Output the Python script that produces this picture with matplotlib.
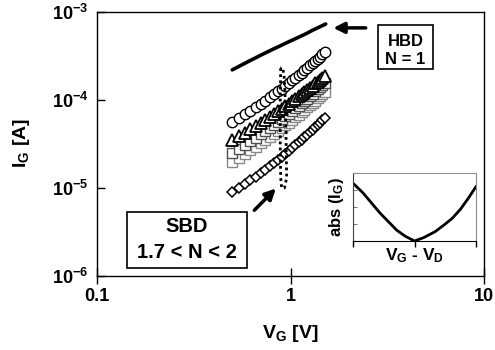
import matplotlib
matplotlib.use('Agg')
import matplotlib.pyplot as plt
from matplotlib.patches import Rectangle
from matplotlib.ticker import NullLocator

plt.rcParams['font.family'] = ['Liberation Sans', 'DejaVu Sans']
plt.rcParams['font.weight'] = 'bold'
plt.rcParams['mathtext.default'] = 'regular'

# gate voltage sweep [V]
vg = [0.50, 0.54, 0.58, 0.62, 0.66, 0.70, 0.74, 0.78, 0.82, 0.86, 0.90, 0.94, 0.98,
      1.02, 1.06, 1.10, 1.14, 1.18, 1.22, 1.26, 1.30, 1.34, 1.38, 1.42, 1.46, 1.50]

# SBD gate currents [A]
ig_circle = [5.62e-5, 6.22e-5, 6.86e-5, 7.54e-5, 8.28e-5, 9.03e-5, 9.84e-5, 1.07e-4, 1.16e-4,
             1.25e-4, 1.35e-4, 1.45e-4, 1.56e-4, 1.68e-4, 1.79e-4, 1.92e-4, 2.05e-4, 2.18e-4,
             2.32e-4, 2.47e-4, 2.62e-4, 2.78e-4, 2.95e-4, 3.11e-4, 3.29e-4, 3.47e-4]
ig_triangle = [3.51e-5, 3.86e-5, 4.23e-5, 4.63e-5, 5.06e-5, 5.48e-5, 5.94e-5, 6.43e-5, 6.93e-5,
               7.42e-5, 7.97e-5, 8.51e-5, 9.11e-5, 9.75e-5, 1.03e-4, 1.10e-4, 1.17e-4, 1.24e-4,
               1.31e-4, 1.38e-4, 1.46e-4, 1.54e-4, 1.62e-4, 1.70e-4, 1.79e-4, 1.87e-4]
ig_grey = [2.53e-5, 2.80e-5, 3.09e-5, 3.39e-5, 3.73e-5, 4.06e-5, 4.43e-5, 4.82e-5, 5.22e-5,
           5.63e-5, 6.08e-5, 6.53e-5, 7.02e-5, 7.56e-5, 8.06e-5, 8.64e-5, 9.23e-5, 9.81e-5,
           1.04e-4, 1.11e-4, 1.18e-4, 1.25e-4, 1.33e-4, 1.40e-4, 1.48e-4, 1.56e-4]
ig_square = [2.00e-5, 2.21e-5, 2.44e-5, 2.68e-5, 2.94e-5, 3.21e-5, 3.49e-5, 3.80e-5, 4.12e-5,
             4.44e-5, 4.79e-5, 5.15e-5, 5.54e-5, 5.96e-5, 6.35e-5, 6.82e-5, 7.28e-5, 7.74e-5,
             8.24e-5, 8.77e-5, 9.30e-5, 9.87e-5, 1.05e-4, 1.10e-4, 1.17e-4, 1.23e-4]
ig_diamond = [9.0e-6, 1.00e-5, 1.11e-5, 1.22e-5, 1.35e-5, 1.48e-5, 1.62e-5, 1.77e-5, 1.93e-5,
              2.09e-5, 2.26e-5, 2.44e-5, 2.64e-5, 2.85e-5, 3.05e-5, 3.29e-5, 3.53e-5, 3.77e-5,
              4.03e-5, 4.31e-5, 4.59e-5, 4.89e-5, 5.21e-5, 5.52e-5, 5.86e-5, 6.21e-5]

# HBD curve
hbd_v = [0.50, 0.60, 0.70, 0.80, 0.90, 1.00, 1.10, 1.20, 1.30, 1.40, 1.52]
hbd_i = [2.2e-4, 2.71e-4, 3.22e-4, 3.72e-4, 4.2e-4, 4.69e-4, 5.16e-4, 5.65e-4, 6.2e-4, 6.7e-4, 7.3e-4]

# dotted loop
loop_v = [0.89, 0.885, 0.885, 0.89, 0.90, 0.93, 0.955, 0.95, 0.94, 0.925, 0.905, 0.89]
loop_i = [2.3e-4, 1.0e-4, 3.0e-5, 1.3e-5, 1.0e-5, 1.0e-5, 1.3e-5, 3.0e-5, 1.0e-4, 2.0e-4, 2.35e-4, 2.3e-4]

# inset: abs(IG) vs VG - VD
inset_x = [-1, -0.84, -0.7, -0.56, -0.42, -0.29, -0.15, 0, 0.15, 0.34, 0.5, 0.61, 0.75, 0.876, 1.0]
inset_y = [0.85, 0.71, 0.56, 0.41, 0.28, 0.16, 0.07, 0, 0.05, 0.14, 0.25, 0.33, 0.47, 0.63, 0.80]

W, H = 495, 350


def fx(x):
    return x / W


def fy(y):
    return 1 - y / H


fig = plt.figure(figsize=(4.95, 3.5), dpi=100)
ax = fig.add_axes([fx(97), fy(276), 387 / W, 264 / H])
ax.set_xscale('log')
ax.set_yscale('log')

ax.plot(hbd_v, hbd_i, color='black', lw=2.6, solid_capstyle='round')

mk = dict(ls='none', markerfacecolor='white')
ax.plot(vg, ig_diamond, marker='D', ms=5.5, markeredgecolor='black', markeredgewidth=1.1, **mk)
ax.plot(vg, ig_square, marker='s', ms=7, markeredgecolor='#888888', markeredgewidth=1.0, **mk)
ax.plot(vg, ig_grey, marker='s', ms=7, markeredgecolor='#505050', markeredgewidth=1.0, **mk)
ax.plot(vg, ig_triangle, marker='^', ms=8, markeredgecolor='black', markeredgewidth=1.3, **mk)
ax.plot(vg, ig_circle, marker='o', ms=7.5, markeredgecolor='black', markeredgewidth=1.0, **mk)

ax.plot(loop_v, loop_i, color='black', ls=(0, (1, 1.2)), lw=2)

ax.set_xlim(0.1, 10)
ax.set_ylim(1e-6, 1e-3)
ax.set_xticks([0.1, 1, 10])
ax.set_xticklabels(['0.1', '1', '10'])
ax.set_yticks([1e-6, 1e-5, 1e-4, 1e-3])
ax.set_yticklabels(['$10^{-6}$', '$10^{-5}$', '$10^{-4}$', '$10^{-3}$'])
ax.xaxis.set_minor_locator(NullLocator())
ax.yaxis.set_minor_locator(NullLocator())
ax.tick_params(axis='x', direction='inout', length=11, width=1, labelsize=13, pad=3)
ax.tick_params(axis='y', direction='in', length=6, width=1, labelsize=13, pad=6)
for s in ax.spines.values():
    s.set_linewidth(1)

fig.text(fx(22), fy(143), 'I$_G$ [A]', rotation=90, ha='center', va='center', fontsize=14)
fig.text(fx(290), fy(333), 'V$_G$ [V]', ha='center', va='center', fontsize=14)

# arrows
ax.annotate('', xy=(1.61, 6.6e-4), xytext=(2.53, 6.6e-4),
            arrowprops=dict(arrowstyle='-|>', lw=2.5, color='black', mutation_scale=16))
ax.annotate('', xy=(0.86, 1.04e-5), xytext=(0.635, 5.3e-6),
            arrowprops=dict(arrowstyle='-|>', lw=2.5, color='black', mutation_scale=16))

# label boxes
fig.patches.append(Rectangle((fx(378), fy(69)), 55 / W, 44 / H, transform=fig.transFigure,
                             fill=False, edgecolor='black', lw=1.2))
fig.text(fx(405.5), fy(41), 'HBD', ha='center', va='center', fontsize=12)
fig.text(fx(405.5), fy(60), 'N = 1', ha='center', va='center', fontsize=12)

fig.patches.append(Rectangle((fx(127), fy(268)), 120 / W, 56 / H, transform=fig.transFigure,
                             facecolor='white', edgecolor='black', lw=1.2, zorder=5))
fig.text(fx(187), fy(227), 'SBD', ha='center', va='center', fontsize=14.5, zorder=6)
fig.text(fx(187), fy(253), '1.7 < N < 2', ha='center', va='center', fontsize=14.5, zorder=6)

# inset
ins = fig.add_axes([fx(353), fy(241), 123 / W, 68 / H])
ins.plot(inset_x, inset_y, color='black', lw=2)
ins.set_xlim(-1, 1)
ins.set_ylim(0, 1)
ins.set_xticks([-1, 0, 1])
ins.set_yticks([0, 0.25, 0.5, 0.75, 1])
ins.tick_params(axis='x', direction='out', length=4, labelbottom=False, width=1)
ins.tick_params(axis='y', direction='in', length=3, labelleft=False, color='#808080')
ins.spines['top'].set_color('#909090')
ins.spines['right'].set_color('#909090')
ins.spines['left'].set_color('#404040')
fig.text(fx(336), fy(207), 'abs (I$_G$)', rotation=90, ha='center', va='center', fontsize=12)
fig.text(fx(414), fy(256), 'V$_G$ - V$_D$', ha='center', va='center', fontsize=12.5)

fig.savefig('out.png', dpi=100)
